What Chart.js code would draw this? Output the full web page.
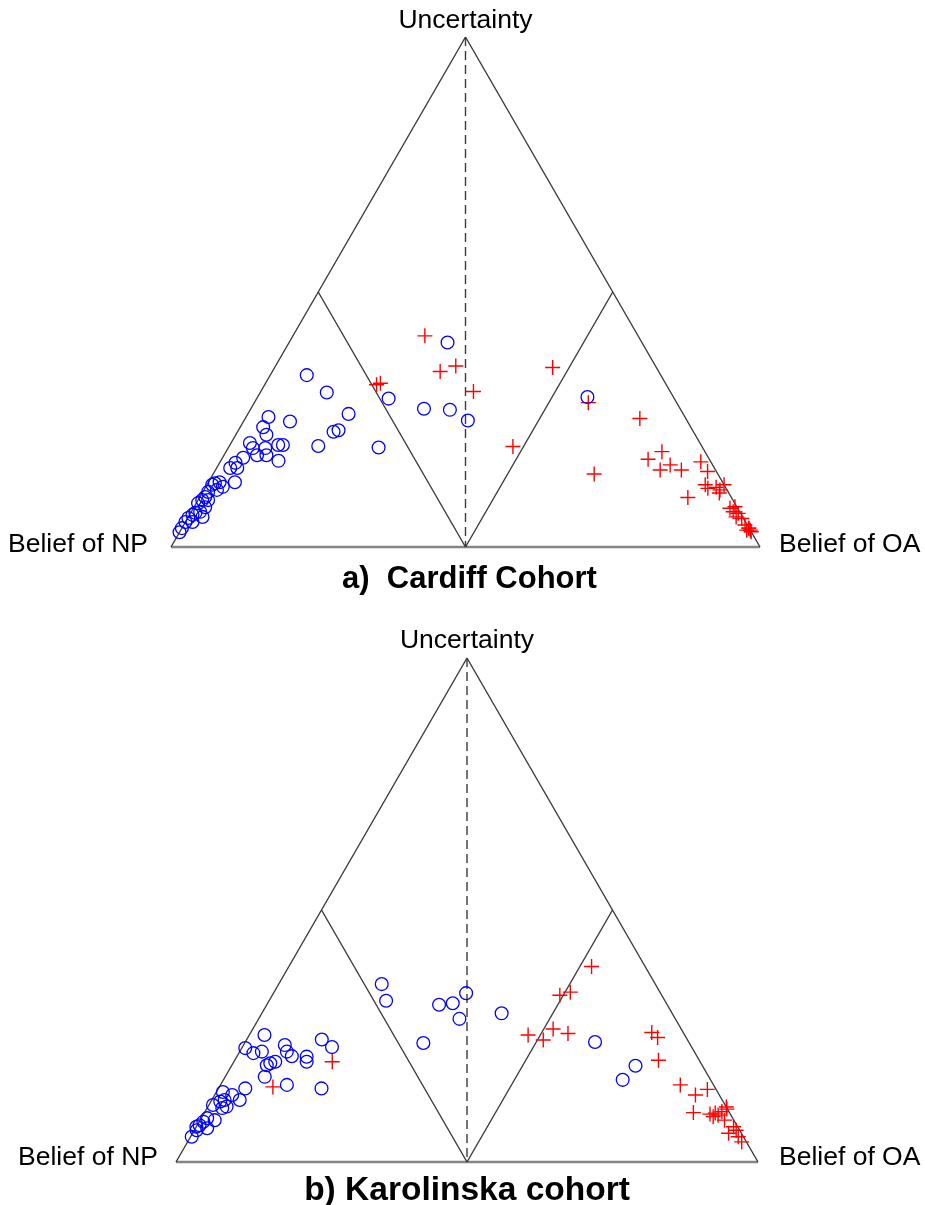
<!DOCTYPE html>
<html>
<head>
<meta charset="utf-8">
<script src="https://cdn.jsdelivr.net/npm/chart.js@4/dist/chart.umd.min.js"></script>
<style>
  html, body { margin: 0; padding: 0; background: #fff; }
  body { width: 925px; height: 1205px; position: relative; overflow: hidden; }
  canvas { position: absolute; left: 0; }
  #cardiff { top: 0; }
  #karolinska { top: 600px; }
</style>
</head>
<body>
<canvas id="cardiff" width="925" height="600"></canvas>
<canvas id="karolinska" width="925" height="605"></canvas>
<script>
// Subjective-logic opinions: belief of OA and uncertainty (belief of NP = 1 - bOA - u)
// Cardiff cohort, NP subjects (blue circles)
const cardiffNP_bOA = [0.062,0.113,0.171,0.079,0.038,0.039,0.052,0.163,0.170,0.151,0.255,0.224,0.090,0.082,0.032,0.042,0.063,0.072,0.056,0.098,0.035,0.027,0.035,0.023,0.045,0.019,0.029,0.012,0.009,0.022,0.009,0.009,0.007,0.017,0.003,0.019,0.015,0.008,0.005,0.001,0.024,0.012,0.000,0.000,0.000,0.269,0.294,0.339,0.380,0.560];
const cardiffNP_u   = [0.337,0.303,0.261,0.246,0.255,0.235,0.220,0.226,0.229,0.198,0.195,0.291,0.200,0.200,0.204,0.194,0.194,0.180,0.180,0.169,0.175,0.165,0.155,0.155,0.127,0.127,0.118,0.125,0.122,0.112,0.108,0.098,0.092,0.092,0.086,0.078,0.069,0.067,0.063,0.057,0.059,0.049,0.049,0.037,0.029,0.401,0.271,0.269,0.248,0.294];
// Cardiff cohort, OA subjects (red plus)
const cardiffOA_bOA = [0.224,0.285,0.306,0.361,0.190,0.195,0.472,0.567,0.670,0.482,0.647,0.740,0.724,0.755,0.767,0.791,0.816,0.837,0.829,0.846,0.854,0.867,0.876,0.878,0.878,0.911,0.918,0.920,0.930,0.930,0.941,0.953,0.962,0.967,0.963,0.961,0.970];
const cardiffOA_u   = [0.414,0.344,0.355,0.305,0.318,0.321,0.352,0.283,0.252,0.197,0.143,0.187,0.172,0.151,0.161,0.151,0.167,0.148,0.097,0.122,0.115,0.117,0.112,0.122,0.106,0.076,0.079,0.069,0.066,0.059,0.056,0.043,0.037,0.033,0.037,0.033,0.030];
// Karolinska cohort, NP subjects (blue circles)
const karolinskaNP_bOA = [0.026,0.129,0.154,0.071,0.081,0.094,0.006,0.025,0.038,0.120,0.125,0.071,0.064,0.060,0.068,0.114,0.177,0.046,0.048,0.030,0.011,0.022,0.016,0.032,0.026,0.007,0.025,0.010,0.007,0.004,0.020,0.004,0.002,0.000,0.177,0.201,0.296,0.318,0.331,0.345,0.412,0.307,0.601,0.694,0.686];
const karolinskaNP_u   = [0.252,0.243,0.228,0.232,0.219,0.210,0.226,0.216,0.219,0.209,0.199,0.199,0.196,0.192,0.169,0.153,0.146,0.146,0.123,0.133,0.139,0.123,0.120,0.110,0.107,0.113,0.083,0.087,0.080,0.073,0.067,0.063,0.050,0.070,0.353,0.320,0.312,0.315,0.335,0.284,0.295,0.236,0.238,0.191,0.163];
// Karolinska cohort, OA subjects (red plus)
const karolinskaOA_bOA = [0.169,0.092,0.520,0.494,0.509,0.516,0.546,0.479,0.510,0.689,0.704,0.728,0.790,0.826,0.841,0.840,0.870,0.878,0.885,0.888,0.894,0.891,0.901,0.878,0.921,0.931,0.941,0.952,0.923];
const karolinskaOA_u   = [0.199,0.149,0.388,0.331,0.337,0.264,0.255,0.252,0.242,0.257,0.247,0.202,0.153,0.133,0.144,0.098,0.095,0.097,0.093,0.100,0.105,0.109,0.083,0.090,0.057,0.063,0.050,0.040,0.070];

const vertexLabels = { top: 'Uncertainty', left: 'Belief of NP', right: 'Belief of OA' };

const H = Math.sqrt(3) / 2;
// barycentric opinion -> cartesian position inside the unit triangle
function toXY(bOA, u) { return { x: bOA + u / 2, y: u * H }; }
function points(bArr, uArr) { return bArr.map((b, i) => toXY(b, uArr[i])); }

const FONT = '"Liberation Sans", Arial, Helvetica, sans-serif';

const ternaryFrame = {
  id: 'ternaryFrame',
  beforeDatasetsDraw(chart, args, o) {
    const { ctx, scales: { x, y } } = chart;
    const P = (bOA, u) => { const p = toXY(bOA, u); return [x.getPixelForValue(p.x), y.getPixelForValue(p.y)]; };
    const L = P(0, 0), R = P(1, 0), T = P(0, 1), M = P(0.5, 0), ML = P(0, 0.5), MR = P(0.5, 0.5);
    const seg = (a, b) => { ctx.beginPath(); ctx.moveTo(a[0], a[1]); ctx.lineTo(b[0], b[1]); ctx.stroke(); };
    ctx.save();
    ctx.lineCap = 'butt';
    // base
    ctx.strokeStyle = '#858585'; ctx.lineWidth = 2.6;
    seg(L, R);
    // sides and the bNP = 0.5 / bOA = 0.5 boundaries
    ctx.strokeStyle = '#3a3a3a'; ctx.lineWidth = 1.4;
    seg(L, T); seg(R, T);
    seg(ML, M); seg(MR, M);
    // equal-belief divider
    ctx.setLineDash([9, 5]);
    seg(T, M);
    ctx.restore();
  },
  afterDraw(chart, args, o) {
    const { ctx, scales: { x, y } } = chart;
    const L = [x.getPixelForValue(0), y.getPixelForValue(0)];
    const R = [x.getPixelForValue(1), y.getPixelForValue(0)];
    const T = [x.getPixelForValue(0.5), y.getPixelForValue(H)];
    ctx.save();
    ctx.fillStyle = '#000';
    ctx.textBaseline = 'middle';
    ctx.font = o.labelFont;
    ctx.textAlign = 'center';
    ctx.fillText(vertexLabels.top, T[0], T[1] + o.topDy);
    ctx.textAlign = 'right';
    ctx.fillText(vertexLabels.left, L[0] - o.leftGap, L[1] + o.sideDy);
    ctx.textAlign = 'left';
    ctx.fillText(vertexLabels.right, R[0] + o.rightGap, R[1] + o.sideDy);
    ctx.font = o.captionFont;
    ctx.textAlign = 'center';
    ctx.fillText(o.caption, T[0] + o.captionDx, L[1] + o.captionDy);
    ctx.restore();
  }
};

function makeChart(id, npB, npU, oaB, oaU, padding, frame) {
  return new Chart(document.getElementById(id), {
    type: 'scatter',
    data: {
      datasets: [
        {
          label: 'NP',
          data: points(npB, npU),
          pointStyle: 'circle',
          radius: 6.4,
          borderWidth: 1.3,
          borderColor: '#0000ff',
          backgroundColor: 'rgba(0,0,0,0)',
          clip: false
        },
        {
          label: 'OA',
          data: points(oaB, oaU),
          pointStyle: 'cross',
          radius: 7.5,
          borderWidth: 1.4,
          borderColor: '#ff0000',
          backgroundColor: '#ff0000',
          clip: false
        }
      ]
    },
    options: {
      responsive: false,
      animation: false,
      devicePixelRatio: 1,
      layout: { padding },
      scales: {
        x: { type: 'linear', min: 0, max: 1, display: false },
        y: { type: 'linear', min: 0, max: H, display: false }
      },
      plugins: {
        legend: { display: false },
        tooltip: { enabled: false },
        ternaryFrame: frame
      }
    },
    plugins: [ternaryFrame]
  });
}

makeChart('cardiff', cardiffNP_bOA, cardiffNP_u, cardiffOA_bOA, cardiffOA_u,
  { left: 171, right: 165, top: 37, bottom: 53 },
  { caption: 'a)  Cardiff Cohort', labelFont: '26.5px ' + FONT, captionFont: 'bold 31px ' + FONT,
    topDy: -16, sideDy: -2, leftGap: 23, rightGap: 19, captionDy: 32, captionDx: 4 });

makeChart('karolinska', karolinskaNP_bOA, karolinskaNP_u, karolinskaOA_bOA, karolinskaOA_u,
  { left: 176, right: 167, top: 58, bottom: 43 },
  { caption: 'b) Karolinska cohort', labelFont: '26.5px ' + FONT, captionFont: 'bold 33.5px ' + FONT,
    topDy: -17, sideDy: -4, leftGap: 18, rightGap: 21, captionDy: 29, captionDx: 0 });
</script>
</body>
</html>
